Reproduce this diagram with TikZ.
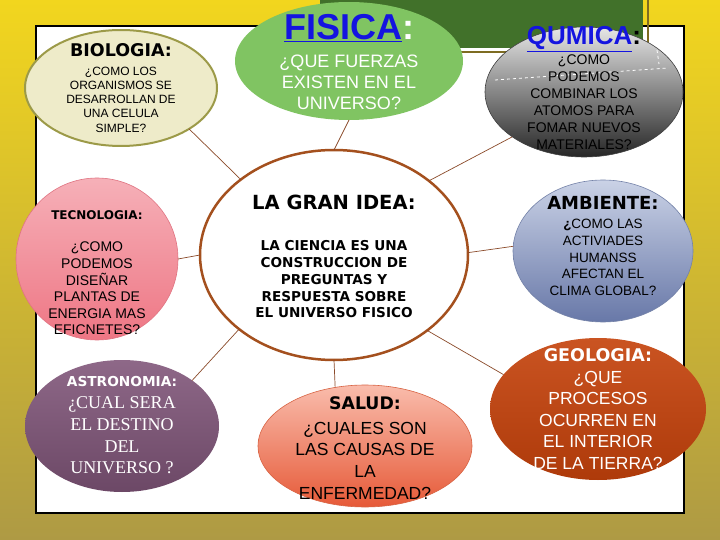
\documentclass[tikz,border=0pt]{standalone}
\usepackage{fontspec}
\setmainfont{Liberation Sans}
\newfontfamily\ttl{DejaVu Sans}
\newfontfamily\serf{Liberation Serif}
\usetikzlibrary{shapes.geometric}
\definecolor{bgtop}{HTML}{F2D61E}
\definecolor{bgmid}{HTML}{D9C03A}
\definecolor{bgbot}{HTML}{AE9A44}
\definecolor{greenbar}{HTML}{41712A}
\definecolor{olivel}{HTML}{7E6C22}
\definecolor{biofill}{HTML}{EEEBC9}
\definecolor{bioline}{HTML}{9C9A48}
\definecolor{fisfill}{HTML}{80C462}
\definecolor{fisblue}{HTML}{1414E0}
\definecolor{qumtop}{HTML}{E6E6E6}
\definecolor{qumbot}{HTML}{262626}
\definecolor{tectop}{HTML}{F6B0B8}
\definecolor{tecbot}{HTML}{EE7684}
\definecolor{tecline}{HTML}{E07482}
\definecolor{bigline}{HTML}{A4501E}
\definecolor{ambtop}{HTML}{CAD2E6}
\definecolor{ambbot}{HTML}{6878A8}
\definecolor{ambline}{HTML}{7482A8}
\definecolor{geotop}{HTML}{CA5422}
\definecolor{geobot}{HTML}{AE3A0A}
\definecolor{asttop}{HTML}{8E6888}
\definecolor{astbot}{HTML}{6C4866}
\definecolor{saltop}{HTML}{F9BCAC}
\definecolor{salbot}{HTML}{E65A38}
\definecolor{salline}{HTML}{D86444}
\definecolor{linkc}{HTML}{8B4A2A}
\begin{document}
\begin{tikzpicture}[x=1pt,y=-1pt,
  blob/.style={ellipse, inner sep=0pt, outer sep=0pt},
  link/.style={draw=linkc, line width=0.7pt},
  txt/.style={align=center, inner sep=0pt, outer sep=0pt},
  ttlf/.style={font=\ttl\bfseries\fontsize{#1}{#1}\selectfont},
]
\useasboundingbox (0,0) rectangle (720,540);
\shade[top color=bgtop, middle color=bgmid, bottom color=bgbot] (0,0) rectangle (720,540);
% panel
\draw[fill=white, draw=black, line width=1.5pt] (36,26) rectangle (684,513);
% green bar
\fill[greenbar] (320,0) rectangle (643,48);
\draw[olivel, line width=1.5pt] (460,52) -- (648,52) -- (648,0);

% nodes (shapes)
\node[blob, minimum width=268pt, minimum height=210pt, fill=white, draw=bigline, line width=2.5pt] (big) at (334,255) {};
\node[blob, minimum width=192pt, minimum height=116pt, fill=biofill, draw=bioline, line width=2pt] (bio) at (121,88) {};
\node[blob, minimum width=228pt, minimum height=118pt, fill=fisfill] (fis) at (349,61) {};
\node[blob, minimum width=198pt, minimum height=130pt, top color=qumtop, bottom color=qumbot, draw=black!75, line width=0.6pt] (qum) at (584,92) {};
\node[circle, inner sep=0pt, outer sep=0pt, minimum size=162pt, top color=tectop, bottom color=tecbot, draw=tecline, line width=0.6pt] (tec) at (97,259) {};
\node[blob, minimum width=180pt, minimum height=142pt, top color=ambtop, bottom color=ambbot, draw=ambline, line width=0.6pt] (amb) at (603,251) {};
\node[blob, minimum width=216pt, minimum height=142pt, top color=geotop, bottom color=geobot] (geo) at (598,409) {};
\node[blob, minimum width=194pt, minimum height=132pt, top color=asttop, bottom color=astbot] (ast) at (122,426) {};
\node[blob, minimum width=214pt, minimum height=122pt, top color=saltop, bottom color=salbot, draw=salline, line width=0.6pt] (sal) at (365,446) {};

% connectors
\draw[link] (big.141) -- (bio.-31);
\draw[link] (big.90) -- (fis.-90);
\draw[link] (big.38) -- (qum.212);
\draw[link] (big.180) -- (tec.0);
\draw[link] (big.1) -- (amb.177);
\draw[link] (big.-39) -- (geo.160);
\draw[link] (big.218) -- (ast.33);
\draw[link] (big.-90) -- (sal.117);

% white dashes on QUMICA
\draw[white, dashed, line width=0.8pt] (495,80) -- (668,68);
\draw[white, dashed, line width=0.8pt] (657,50) -- (659,64);

% texts
\node[txt, ttlf=17.5] (biotitle) at (121,50) {BIOLOGIA:};
\node[txt, font=\fontsize{12}{14.3}\selectfont] (biobody) at (121,99.5) {¿COMO LOS\\ORGANISMOS SE\\DESARROLLAN DE\\UNA CELULA\\SIMPLE?};

\node[txt, font=\bfseries\fontsize{36}{36}\selectfont] (fistitle) at (349,28) {\textcolor{fisblue}{\underline{FISICA}}\textcolor{white}{:}};
\node[txt, text=white, font=\fontsize{18}{21}\selectfont] (fisbody) at (349,82) {¿QUE FUERZAS\\EXISTEN EN EL\\UNIVERSO?};

\node[txt, font=\bfseries\fontsize{26}{26}\selectfont] (qumtitle) at (584,39) {\textcolor{fisblue}{\underline{QUMICA}}:};
\node[txt, font=\fontsize{14}{17}\selectfont] (qumbody) at (584,102.5) {¿COMO\\PODEMOS\\COMBINAR LOS\\ATOMOS PARA\\FOMAR NUEVOS\\MATERIALES?};

\node[txt, ttlf=12] (tectitle) at (97,215) {TECNOLOGIA:};
\node[txt, font=\fontsize{14}{16.6}\selectfont] (tecbody) at (97,288.5) {¿COMO\\PODEMOS\\DISEÑAR\\PLANTAS DE\\ENERGIA MAS\\EFICNETES?};

\node[txt, ttlf=19.5] (bigtitle) at (334,202) {LA GRAN IDEA:};
\node[txt, font=\ttl\bfseries\fontsize{13.6}{16.75}\selectfont] (bigbody) at (334,279.5) {LA CIENCIA ES UNA\\CONSTRUCCION DE\\PREGUNTAS Y\\RESPUESTA SOBRE\\EL UNIVERSO FISICO};

\node[txt, ttlf=18] (ambtitle) at (603,203) {AMBIENTE:};
\node[txt, font=\fontsize{13.5}{16.75}\selectfont] (ambbody) at (603,257.5) {{\bfseries ¿}COMO LAS\\ACTIVIADES\\HUMANSS\\AFECTAN EL\\CLIMA GLOBAL?};

\node[txt, text=white, ttlf=17.5] (geotitle) at (598,355) {GEOLOGIA:};
\node[txt, text=white, font=\fontsize{17.5}{21.5}\selectfont] (geobody) at (598,420) {¿QUE\\PROCESOS\\OCURREN EN\\EL INTERIOR\\DE LA TIERRA?};

\node[txt, text=white, ttlf=13.7] (asttitle) at (122,382) {ASTRONOMIA:};
\node[txt, text=white, font=\serf\fontsize{18}{21.7}\selectfont] (astbody) at (122,435.5) {¿CUAL SERA\\EL DESTINO\\DEL\\UNIVERSO ?};

\node[txt, ttlf=17.3] (saltitle) at (365,403) {SALUD:};
\node[txt, font=\fontsize{17.5}{21.7}\selectfont] (salbody) at (365,460.5) {¿CUALES SON\\LAS CAUSAS DE\\LA\\ENFERMEDAD?};
\end{tikzpicture}
\end{document}
